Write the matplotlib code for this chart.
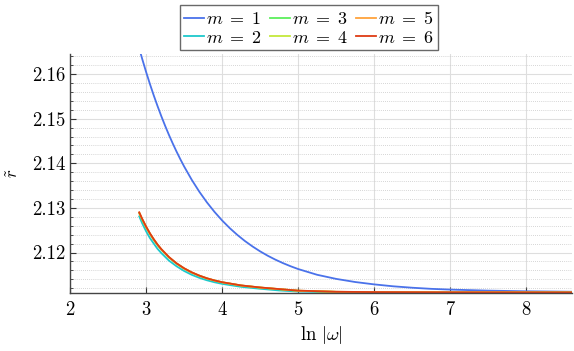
import matplotlib
matplotlib.use("Agg")
import matplotlib.pyplot as plt
import numpy as np

plt.rcParams["font.family"] = "serif"
plt.rcParams["font.serif"] = ["cmr10"]
plt.rcParams["mathtext.fontset"] = "cm"
plt.rcParams["axes.formatter.use_mathtext"] = True

X_M1 = [2.90, 2.95, 3.00, 3.05, 3.10, 3.15, 3.20, 3.25, 3.30, 3.35, 3.40, 3.45,
        3.50, 3.60, 3.70, 3.80, 3.90, 4.00, 4.10, 4.20, 4.30, 4.40, 4.50, 4.60,
        4.70, 4.80, 4.90, 5.00, 5.25, 5.50, 5.75, 6.00, 6.25, 6.50, 6.75, 7.00,
        7.50, 8.00, 8.60]
R_M1 = [2.16636, 2.16335, 2.16050, 2.15781, 2.15526, 2.15286, 2.15058, 2.14843,
        2.14639, 2.14447, 2.14265, 2.14093, 2.13930, 2.13631, 2.13363, 2.13124,
        2.12910, 2.12718, 2.12547, 2.12394, 2.12257, 2.12135, 2.12025, 2.11927,
        2.11840, 2.11762, 2.11692, 2.11629, 2.11500, 2.11408, 2.11338, 2.11285,
        2.11242, 2.11210, 2.11185, 2.11168, 2.11145, 2.11130, 2.11120]

X_M = [2.91, 2.95, 3.00, 3.05, 3.10, 3.15, 3.20, 3.30, 3.40, 3.50, 3.60, 3.70,
       3.80, 3.90, 4.00, 4.25, 4.50, 4.75, 5.00, 5.50, 6.00, 7.00, 8.60]
R_M2 = [2.12810, 2.12651, 2.12477, 2.12325, 2.12203, 2.12083, 2.11988, 2.11819,
        2.11692, 2.11586, 2.11500, 2.11432, 2.11377, 2.11333, 2.11297, 2.11230,
        2.11187, 2.11149, 2.11124, 2.11110, 2.11102, 2.11100, 2.11100]
R_M3 = [2.12880, 2.12730, 2.12565, 2.12416, 2.12285, 2.12167, 2.12064, 2.11889,
        2.11750, 2.11639, 2.11549, 2.11477, 2.11417, 2.11370, 2.11330, 2.11258,
        2.11212, 2.11176, 2.11141, 2.11117, 2.11110, 2.11106, 2.11104]
R_M4 = [2.12890, 2.12741, 2.12574, 2.12424, 2.12292, 2.12174, 2.12070, 2.11894,
        2.11754, 2.11643, 2.11552, 2.11480, 2.11420, 2.11372, 2.11332, 2.11260,
        2.11214, 2.11178, 2.11143, 2.11118, 2.11111, 2.11106, 2.11105]
R_M5 = [2.12895, 2.12746, 2.12578, 2.12428, 2.12296, 2.12177, 2.12073, 2.11897,
        2.11756, 2.11645, 2.11554, 2.11481, 2.11421, 2.11373, 2.11333, 2.11261,
        2.11215, 2.11179, 2.11144, 2.11119, 2.11112, 2.11107, 2.11105]
R_M6 = [2.12900, 2.12750, 2.12581, 2.12431, 2.12299, 2.12180, 2.12076, 2.11899,
        2.11758, 2.11646, 2.11555, 2.11482, 2.11422, 2.11374, 2.11334, 2.11262,
        2.11216, 2.11180, 2.11145, 2.11120, 2.11112, 2.11107, 2.11105]

SERIES = [
    (r"$m\;=\;1$", X_M1, R_M1, "#4a72ea"),
    (r"$m\;=\;2$", X_M, R_M2, "#1ec8cc"),
    (r"$m\;=\;3$", X_M, R_M3, "#5cef5c"),
    (r"$m\;=\;4$", X_M, R_M4, "#c4e83a"),
    (r"$m\;=\;5$", X_M, R_M5, "#ffa23c"),
    (r"$m\;=\;6$", X_M, R_M6, "#de3c14"),
]

X_TICKS = [2, 3, 4, 5, 6, 7, 8]
Y_TICKS = [2.12, 2.13, 2.14, 2.15, 2.16]

fig = plt.figure(figsize=(5.74, 3.51), dpi=100)
ax = fig.add_axes([0.122, 0.165, 0.8745, 0.681])

for label, xs, ys, color in SERIES:
    ax.plot(xs, ys, color=color, linewidth=1.3, label=label)

ax.set_xlim(2, 8.6)
ax.set_ylim(2.1109, 2.1645)
ax.set_xticks(X_TICKS)
ax.set_yticks(Y_TICKS)
ax.set_yticks(np.arange(2.112, 2.1645, 0.002), minor=True)
ax.set_yticklabels([f"{v:.2f}" for v in Y_TICKS])
ax.tick_params(axis="both", labelsize=13.5, direction="in", length=4, width=0.8, color="#333333")
ax.tick_params(axis="y", which="minor", direction="in", length=2.5, width=0.6, color="#333333")
ax.tick_params(axis="x", pad=6)

ax.grid(axis="both", which="major", color="#dedede", linewidth=0.8)
ax.grid(axis="y", which="minor", color="#c8c8c8", linewidth=0.6, linestyle=(0, (1, 1.5)))
ax.set_axisbelow(True)

for side in ["top", "right"]:
    ax.spines[side].set_visible(False)
for side in ["left", "bottom"]:
    ax.spines[side].set_color("#444444")
    ax.spines[side].set_linewidth(1.0)

ax.set_xlabel(r"$\ln\,|\omega|$", fontsize=13.5, labelpad=3)
ax.set_ylabel(r"$\tilde{r}$", fontsize=12, labelpad=8)

leg = fig.legend(loc="upper center", bbox_to_anchor=(0.538, 1.0), ncol=3, fontsize=13,
                 frameon=True, fancybox=False, handlelength=1.1, handletextpad=0.1,
                 columnspacing=0.5, borderpad=0.25, labelspacing=0.15, borderaxespad=0.3)
leg.get_frame().set_edgecolor("#444444")
leg.get_frame().set_linewidth(1.0)

fig.savefig("out.png", dpi=100)
